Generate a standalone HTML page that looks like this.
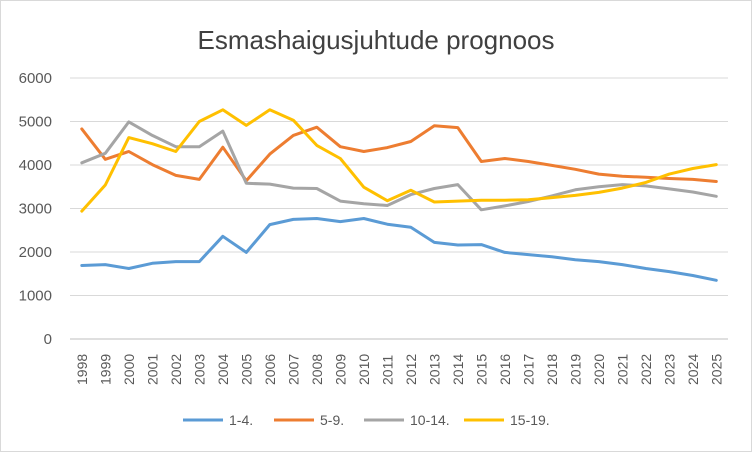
<!DOCTYPE html>
<html><head><meta charset="utf-8"><style>
html,body{margin:0;padding:0;background:#fff}
svg{display:block;font-family:"Liberation Sans",sans-serif}
</style></head><body>
<svg width="752" height="452" viewBox="0 0 752 452">
<rect x="0.5" y="0.5" width="751" height="451" fill="#fff" stroke="#d9d9d9"/>
<text x="376" y="49" text-anchor="middle" font-size="26" fill="#404040">Esmashaigusjuhtude prognoos</text>
<g id="grid" stroke="#d9d9d9" stroke-width="1"></g>
<g id="ylab" font-size="15" fill="#595959" text-anchor="end"></g>
<g id="xlab" font-size="14" fill="#595959"></g>
<g id="series" fill="none" stroke-width="3" stroke-linejoin="round" stroke-linecap="round"></g>
<g font-size="14" fill="#595959">
<line x1="183" y1="420" x2="223" y2="420" stroke="#5b9bd5" stroke-width="3"/><text x="229" y="425">1-4.</text>
<line x1="274" y1="420" x2="314" y2="420" stroke="#ed7d31" stroke-width="3"/><text x="320" y="425">5-9.</text>
<line x1="364" y1="420" x2="404" y2="420" stroke="#a5a5a5" stroke-width="3"/><text x="410" y="425">10-14.</text>
<line x1="464" y1="420" x2="504" y2="420" stroke="#ffc000" stroke-width="3"/><text x="510" y="425">15-19.</text>
</g>
</svg>
<script>
const NS="http://www.w3.org/2000/svg";
const x0=70,x1=728,y0=339,yTop=78;
const n=28,step=(x1-x0)/n;
const X=i=>x0+step*(i+0.5), Y=v=>y0-(y0-yTop)*v/6000;
const g=document.getElementById('grid'),yl=document.getElementById('ylab'),xl=document.getElementById('xlab'),s=document.getElementById('series');
function el(p,t,a){const e=document.createElementNS(NS,t);for(const k in a)e.setAttribute(k,a[k]);p.appendChild(e);return e;}
for(let v=0;v<=6000;v+=1000){const y=Y(v);el(g,'line',{x1:x0,x2:x1,y1:y,y2:y,stroke:v==0?'#bfbfbf':'#d9d9d9'});el(yl,'text',{x:52,y:y+5}).textContent=v;}
for(let i=0;i<n;i++){const x=X(i);el(xl,'text',{x:0,y:0,transform:`translate(${x+5},${385}) rotate(-90)`}).textContent=1998+i;}
const data={
'#5b9bd5':[1690,1710,1620,1740,1780,1780,2360,1990,2630,2750,2770,2700,2770,2640,2570,2220,2160,2170,1990,1940,1890,1820,1780,1710,1620,1550,1460,1350],
'#ed7d31':[4830,4130,4310,4010,3760,3670,4410,3640,4250,4680,4870,4420,4310,4400,4540,4900,4860,4080,4150,4080,3990,3900,3790,3740,3720,3690,3670,3620],
'#a5a5a5':[4050,4270,4990,4680,4420,4420,4780,3580,3560,3470,3460,3170,3110,3070,3320,3460,3550,2970,3060,3160,3290,3430,3500,3550,3520,3450,3380,3280],
'#ffc000':[2940,3540,4630,4490,4310,5000,5270,4910,5270,5030,4450,4150,3490,3180,3420,3150,3170,3190,3190,3200,3250,3300,3370,3470,3600,3790,3920,4010]};
for(const c in data){el(s,'polyline',{stroke:c,points:data[c].map((v,i)=>X(i).toFixed(1)+','+Y(v).toFixed(1)).join(' ')});}
</script>
</body></html>
